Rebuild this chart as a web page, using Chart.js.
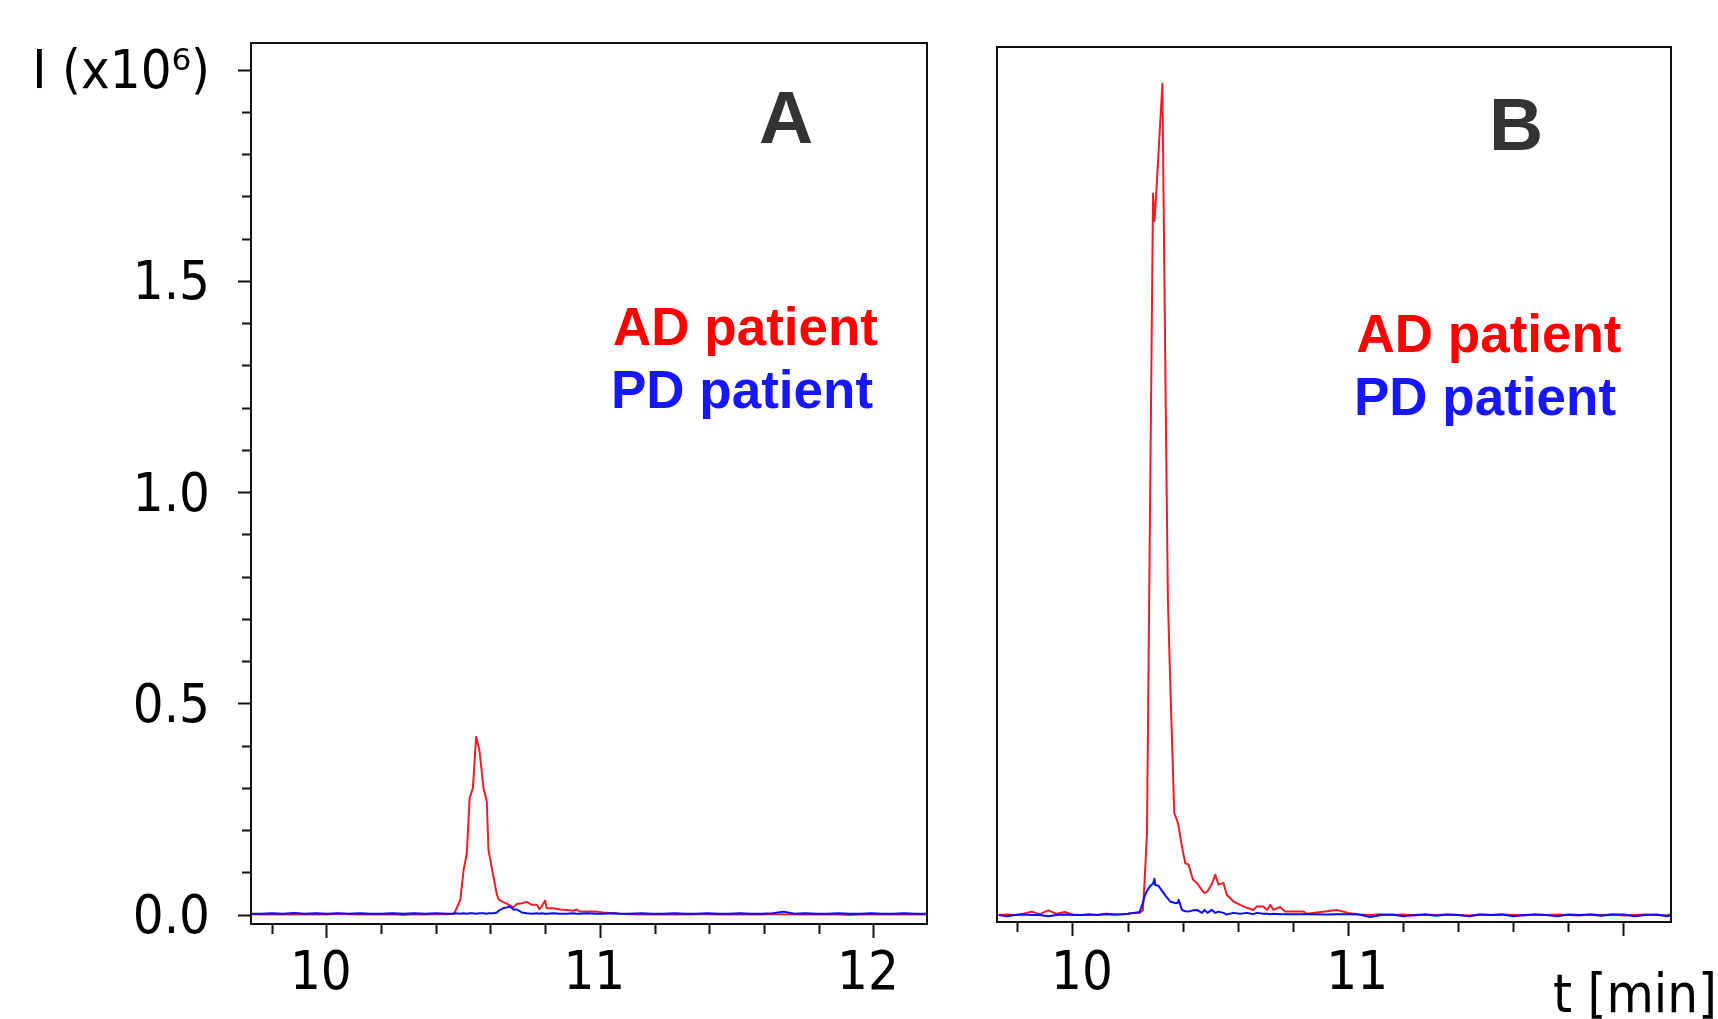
<!DOCTYPE html>
<html><head><meta charset="utf-8">
<script src="https://cdn.jsdelivr.net/npm/chart.js@4/dist/chart.umd.min.js"></script>
<style>
html,body{margin:0;padding:0;background:#fff;width:1718px;height:1019px;overflow:hidden}
canvas{position:absolute;left:0;top:0}
</style></head>
<body>
<canvas id="chartA" width="1718" height="1019"></canvas>
<canvas id="chartB" width="1718" height="1019"></canvas>
<script>
// ---------- Panel A data ----------
const aTime = [9.72,9.76,9.80,9.84,9.88,9.92,9.96,10.00,10.04,10.08,10.12,10.16,10.20,10.24,10.28,10.32,10.36,10.40,10.44,
  10.463,10.469,10.488,10.500,10.512,10.522,10.534,10.546,10.558,10.573,10.585,10.591,10.609,
  10.622,10.628,10.644,10.658,10.670,10.682,10.695,10.713,10.731,10.750,10.768,10.777,10.786,10.798,10.804,10.828,10.853,10.877,10.900,10.914,10.926,10.950,10.987,11.010,11.048,11.072,
  11.11,11.15,11.19,11.23,11.27,11.31,11.35,11.39,11.43,11.47,11.51,11.55,11.59,11.63,11.67,11.71,11.75,11.79,11.83,11.87,11.91,11.95,11.99,12.03,12.07,12.11,12.15,12.19];
const aAD = [0.002,0.001,0.002,0.001,0.002,0.001,0.002,0.001,0.003,0.002,0.001,0.002,0.001,0.002,0.000,0.002,0.001,0.002,0.002,
  0.003,0.008,0.036,0.106,0.146,0.276,0.300,0.422,0.390,0.300,0.268,0.154,0.091,
  0.048,0.037,0.031,0.027,0.022,0.018,0.026,0.028,0.031,0.024,0.024,0.014,0.021,0.034,0.016,0.016,0.013,0.012,0.010,0.013,0.008,0.008,0.008,0.006,0.004,0.003,
  0.002,0.001,0.002,0.001,0.002,0.001,0.002,0.002,0.001,0.002,0.001,0.002,0.001,0.002,0.002,0.001,0.002,0.001,0.002,0.001,0.000,0.001,0.002,0.001,0.001,0.002,0.001,0.001];
const aPD = [0.003,0.003,0.004,0.003,0.005,0.003,0.004,0.003,0.004,0.003,0.004,0.003,0.003,0.004,0.003,0.004,0.003,0.004,0.003,
  0.003,0.004,0.003,0.004,0.003,0.004,0.004,0.003,0.004,0.004,0.003,0.004,0.004,
  0.006,0.010,0.016,0.018,0.020,0.013,0.013,0.006,0.004,0.003,0.004,0.003,0.004,0.003,0.003,0.004,0.003,0.003,0.004,0.003,0.003,0.004,0.003,0.003,0.004,0.003,
  0.003,0.004,0.003,0.003,0.004,0.003,0.003,0.004,0.003,0.003,0.004,0.003,0.003,0.004,0.008,0.003,0.004,0.003,0.003,0.004,0.003,0.003,0.004,0.003,0.003,0.004,0.003,0.003];

// ---------- Panel B data ----------
const bTime = [9.73,9.76,9.79,9.82,9.85,9.88,9.91,9.94,9.97,10.00,10.03,10.06,10.09,10.12,10.15,10.18,10.20,10.22,
  10.242,10.254,10.260,10.269,10.281,10.291,10.296,10.299,10.311,10.325,10.338,10.345,10.353,10.368,10.372,10.381,10.384,10.396,10.408,10.420,10.436,10.450,10.469,10.478,10.489,10.505,10.517,10.529,10.547,10.559,10.583,10.608,10.632,10.656,10.668,10.692,10.705,10.717,10.729,10.753,10.771,10.838,10.850,10.923,10.959,11.000,
  11.04,11.08,11.12,11.16,11.20,11.24,11.28,11.32,11.36,11.40,11.44,11.48,11.52,11.56,11.60,11.64,11.68,11.72,11.76,11.80,11.84,11.88,11.92,11.96,12.00,12.04,12.08,12.12,12.16,12.17];
const bAD = [0.001,0.002,0.001,0.004,0.009,0.003,0.012,0.004,0.008,0.002,0.001,0.002,0.001,0.003,0.002,0.003,0.004,0.006,
  0.006,0.012,0.077,0.195,1.030,1.710,1.645,1.670,1.808,1.970,1.149,0.747,0.562,0.243,0.236,0.219,0.210,0.163,0.124,0.120,0.085,0.077,0.060,0.053,0.057,0.075,0.096,0.073,0.077,0.049,0.033,0.025,0.018,0.013,0.021,0.021,0.013,0.025,0.013,0.020,0.009,0.009,0.004,0.010,0.013,0.006,
  0.002,0.001,0.003,0.001,0.002,0.000,0.002,0.001,0.002,0.001,0.000,0.002,0.001,0.002,0.001,0.000,0.002,0.001,0.002,0.001,0.000,0.002,0.001,0.002,0.000,0.001,0.002,0.001,0.000,0.002];
const bPD = [0.001,-0.002,0.001,0.002,0.001,0.001,-0.002,0.001,0.002,0.001,0.001,0.002,0.001,0.004,0.002,0.003,0.004,0.006,
  0.008,0.030,0.045,0.058,0.070,0.075,0.087,0.072,0.070,0.057,0.045,0.040,0.033,0.030,0.029,0.030,0.037,0.013,0.010,0.009,0.012,0.013,0.006,0.013,0.006,0.013,0.006,0.009,0.006,0.002,0.006,0.004,0.006,0.003,0.006,0.004,0.004,0.003,0.004,0.003,0.003,0.003,0.003,0.002,0.003,0.003,
  0.002,-0.004,0.001,0.002,-0.002,0.001,0.002,-0.001,0.002,0.001,-0.002,0.002,0.001,0.002,-0.002,0.001,0.002,0.001,-0.002,0.002,0.001,0.002,-0.001,0.002,0.002,-0.002,0.001,0.002,-0.002,0.001];

// ---------- Ticks & labels ----------
const yTicks = [0,0.1,0.2,0.3,0.4,0.5,0.6,0.7,0.8,0.9,1.0,1.1,1.2,1.3,1.4,1.5,1.6,1.7,1.8,1.9,2.0];
const yLabelValues = [0, 0.5, 1.0, 1.5, 2.0];
const yLabelTexts = ['0.0', '0.5', '1.0', '1.5', 'I (x10\u2076)'];
const xTicks = [9.8,10.0,10.2,10.4,10.6,10.8,11.0,11.2,11.4,11.6,11.8,12.0];
const xMajor = [10, 11, 12];
const xLabelsA = ['10', '11', '12'];
const xLabelsB = ['10', '11', ''];
const seriesNames = ['PD patient', 'AD patient'];
const panelNames = ['A', 'B'];
const xTitle = 't [min]';

const RED_LINE = 'rgb(238,30,38)';
const BLUE_LINE = 'rgb(10,10,255)';
const AXIS = '#111';
const TICK_FONT = {family: "'DejaVu Sans Condensed', 'DejaVu Sans', sans-serif", size: 54};

const near = (a, b) => Math.abs(a - b) < 1e-6;
const findIdx = (arr, v) => arr.findIndex(u => near(u, v));

function pts(t, v) { return t.map((x, i) => ({x, y: v[i]})); }

function textPlugin(texts) {
  return {
    id: 'frameText',
    afterDraw(chart) {
      const {ctx, chartArea: c} = chart;
      ctx.save();
      ctx.strokeStyle = AXIS; ctx.lineWidth = 2;
      ctx.strokeRect(c.left, c.top, c.right - c.left, c.bottom - c.top);
      ctx.textAlign = 'left'; ctx.textBaseline = 'alphabetic';
      texts.forEach(t => { ctx.font = t.font; ctx.fillStyle = t.color; ctx.fillText(t.text, t.x, t.y); });
      ctx.restore();
    }
  };
}

function noPad(s) { s.paddingTop = 0; s.paddingBottom = 0; s.paddingLeft = 0; s.paddingRight = 0; }

function xScale(min, max, labels, axisH, pad, offset) {
  return {
    type: 'linear', min, max,
    afterBuildTicks: s => { s.ticks = xTicks.map(v => ({value: v})); },
    afterFit: s => { s.height = axisH; noPad(s); },
    border: {display: true, color: AXIS, width: 2},
    grid: {drawOnChartArea: false, drawTicks: true, tickLength: 14, tickWidth: 2, tickColor: AXIS,
      tickBorderDash: ctx => (ctx.tick && findIdx(xMajor, ctx.tick.value) < 0) ? [9, 60] : []},
    ticks: {autoSkip: false, maxRotation: 0, padding: pad, labelOffset: offset, color: '#000', font: TICK_FONT,
      callback: v => { const i = findIdx(xMajor, v); return i < 0 ? '' : labels[i]; }}
  };
}

function datasets(t, ad, pd) {
  return [
    {label: seriesNames[0], data: pts(t, pd), borderColor: BLUE_LINE, borderWidth: 2, pointRadius: 0, tension: 0, borderJoinStyle: 'round'},
    {label: seriesNames[1], data: pts(t, ad), borderColor: RED_LINE, borderWidth: 2, pointRadius: 0, tension: 0, borderJoinStyle: 'round'}
  ];
}

const common = {
  responsive: false, animation: false, events: [],
  plugins: {legend: {display: false}, tooltip: {enabled: false}, title: {display: false}}
};

const LBL = "bold 53px 'Liberation Sans', Arial, sans-serif";
const PNL = "bold 75px 'Liberation Sans', Arial, sans-serif";

new Chart(document.getElementById('chartA'), {
  type: 'line',
  data: {datasets: datasets(aTime, aAD, aPD)},
  options: Object.assign({}, common, {
    layout: {autoPadding: false, padding: {left: 0, top: 43, right: 791, bottom: 0}},
    scales: {
      x: xScale(9.723, 12.194, xLabelsA, 95, 5, -6),
      y: {
        type: 'linear', min: -0.0213, max: 2.064,
        afterBuildTicks: s => { s.ticks = yTicks.map(v => ({value: v})); },
        afterFit: s => { s.width = 251; noPad(s); },
        border: {display: true, color: AXIS, width: 2},
        grid: {drawOnChartArea: false, drawTicks: true, tickLength: 13, tickWidth: 2, tickColor: AXIS,
          tickBorderDash: ctx => (ctx.tick && findIdx(yLabelValues, ctx.tick.value) < 0) ? [0, 4, 9, 60] : []},
        ticks: {autoSkip: false, padding: 28, labelOffset: 4, color: '#000', font: TICK_FONT,
          callback: v => { const i = findIdx(yLabelValues, v); return i < 0 ? '' : yLabelTexts[i]; }}
      }
    }
  }),
  plugins: [textPlugin([
    {text: panelNames[0], x: 759, y: 142.7, font: PNL, color: '#333'},
    {text: seriesNames[1], x: 613, y: 345, font: LBL, color: '#ff0000'},
    {text: seriesNames[0], x: 611, y: 408.3, font: LBL, color: '#1616ff'}
  ])]
});

new Chart(document.getElementById('chartB'), {
  type: 'line',
  data: {datasets: datasets(bTime, bAD, bPD)},
  options: Object.assign({}, common, {
    layout: {autoPadding: false, padding: {left: 997, top: 47, right: 47, bottom: 0}},
    scales: {
      x: xScale(9.724, 12.173, xLabelsB, 97, 7, 9),
      y: {type: 'linear', display: false, min: -0.0156, max: 2.057}
    }
  }),
  plugins: [textPlugin([
    {text: panelNames[1], x: 1489, y: 150, font: PNL, color: '#333'},
    {text: seriesNames[1], x: 1356.5, y: 351.7, font: LBL, color: '#ff0000'},
    {text: seriesNames[0], x: 1354, y: 415, font: LBL, color: '#1616ff'},
    {text: xTitle, x: 1553, y: 1012, font: "54px 'DejaVu Sans Condensed', 'DejaVu Sans', sans-serif", color: '#000'}
  ])]
});
</script>
</body></html>
